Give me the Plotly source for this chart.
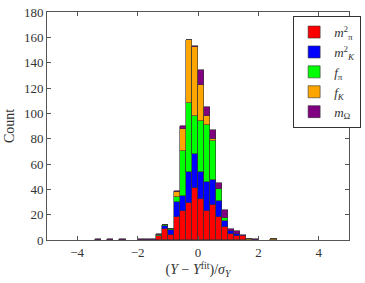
import plotly.graph_objects as go

# bin centers (bin width 0.2)
bin_centers = [-3.3, -2.9, -2.5, -1.9, -1.7, -1.5, -1.3, -1.1, -0.9, -0.7, -0.5, -0.3, -0.1,
               0.1, 0.3, 0.5, 0.7, 0.9, 1.1, 1.3, 1.5, 1.7, 1.9, 2.5]
bin_width = 0.2

m_pi2 =   [0, 0, 0, 0, 0, 0, 3, 9, 4, 18, 23, 29, 41, 32, 23, 28, 18, 10, 5, 3, 3, 0, 0, 0]
m_K2 =    [0, 0, 0, 0, 0, 0, 0, 2, 4, 12, 12, 25, 27, 22, 23, 19, 13, 5, 2, 2, 0, 0, 0, 0]
f_pi =    [0, 0, 0, 0, 0, 0, 1, 1, 1, 4, 35, 54, 30, 40, 45, 31, 9, 2, 0, 0, 0, 0, 0, 0]
f_K =     [0, 0, 0, 0, 0, 0, 0, 0, 0, 4, 18, 50, 54, 28, 7, 2, 0, 0, 0, 0, 0, 1, 0, 1]
m_Omega = [1, 1, 1, 1, 1, 1, 1, 0, 0, 1, 2, 0, 1, 12, 7, 7, 5, 7, 2, 2, 1, 0, 1, 0]

series = [
    ("<i>m</i><sup>2</sup><sub>π</sub>", m_pi2, "#ff0000"),
    ("<i>m</i><sup>2</sup><sub><i>K</i></sub>", m_K2, "#0000ff"),
    ("<i>f</i><sub>π</sub>", f_pi, "#00ff00"),
    ("<i>f</i><sub><i>K</i></sub>", f_K, "#ffa500"),
    ("<i>m</i><sub>Ω</sub>", m_Omega, "#800080"),
]

y_ticks = [0, 20, 40, 60, 80, 100, 120, 140, 160, 180]
x_ticks = [-4, -2, 0, 2, 4]

fig = go.Figure()
for name, vals, col in series:
    fig.add_trace(go.Bar(
        x=bin_centers, y=vals, width=bin_width, name=name,
        marker=dict(color=col, line=dict(color="#333333", width=0.6)),
    ))

font_family = "Liberation Serif, DejaVu Serif, serif"
axis_common = dict(
    showline=True, linecolor="#555555", linewidth=1, mirror="ticks",
    ticks="inside", ticklen=4, tickcolor="#555555", showgrid=False, zeroline=False,
    automargin=False,
    tickfont=dict(family=font_family, size=13, color="#333333"),
)

fig.update_layout(
    width=365, height=283,
    barmode="stack", bargap=0,
    plot_bgcolor="white", paper_bgcolor="white",
    margin=dict(l=47, r=4, t=12, b=43),
    font=dict(family=font_family, color="#333333"),
    xaxis=dict(range=[-5, 5], tickvals=x_ticks,
               title=dict(text="(<i>Y</i> − <i>Y</i><sup>fit</sup>)/<i>σ</i><sub><i>Y</i></sub>",
                          font=dict(size=14, family=font_family), standoff=4),
               **axis_common),
    yaxis=dict(range=[0, 180], tickvals=y_ticks,
               title=dict(text="Count", font=dict(size=14, family=font_family), standoff=6),
               **axis_common),
    legend=dict(x=0.815, y=0.982, xanchor="left", yanchor="top", traceorder="normal",
                bordercolor="#333333", borderwidth=1, bgcolor="white",
                font=dict(family=font_family, size=13, color="#333333"),
                itemwidth=30, tracegroupgap=0),
    showlegend=True,
)

fig.write_html("out.html", config={"displayModeBar": False},
               post_script="document.body.style.margin='0';document.body.style.padding='0';"
                           "document.body.style.overflow='hidden';")
